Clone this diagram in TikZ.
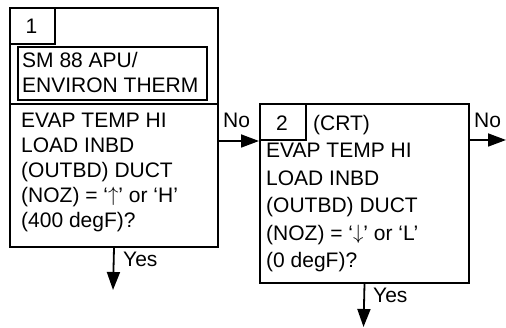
\documentclass[tikz,border=0pt]{standalone}
\usepackage{fontspec}
\setmainfont{Liberation Sans}
\usetikzlibrary{arrows.meta}

\begin{document}
\begin{tikzpicture}[x=1pt,y=-1pt,
  box/.style={draw,line width=2pt,anchor=north west,inner sep=0pt},
  txt/.style={anchor=base west,inner sep=0pt,font=\fontsize{21}{25}\selectfont},
  flow/.style={line width=1.8pt,-{Triangle[length=18pt,width=13pt]}}]
\useasboundingbox (0,0) rectangle (506,328);
% block 1
\node[box,minimum width=208pt,minimum height=96pt] (b1top) at (9,7) {};
\node[box,minimum width=45pt,minimum height=36pt] (n1) at (9,7) {};
\node[txt,anchor=base] (n1txt) at (31.5,34) {1};
\node[box,minimum width=189pt,minimum height=53pt] (sm) at (17,46) {};
\node[txt] (sm1) at (22,68) {SM 88 APU/};
\node[txt] (sm2) at (22,93) {ENVIRON THERM};
\node[box,minimum width=208pt,minimum height=143pt] (b1low) at (9,103) {};
\foreach \t [count=\i from 0] in {EVAP TEMP HI,LOAD INBD,(OUTBD) DUCT,
    {(NOZ) = ‘\raisebox{1pt}{$\uparrow$}’ or ‘H’},(400 degF)?}
  \node[txt] (q1-\i) at (21,128+25*\i) {\t};
% block 2
\node[box,minimum width=209pt,minimum height=179pt] (b2) at (259,103) {};
\node[box,minimum width=46pt,minimum height=36pt] (n2) at (259,103) {};
\node[txt,anchor=base] (n2txt) at (282,131) {2};
\node[txt] (crt) at (313,131) {(CRT)};
\foreach \t [count=\i from 0] in {EVAP TEMP HI,LOAD INBD,(OUTBD) DUCT,
    {(NOZ) = ‘\raisebox{1pt}{$\downarrow$}’ or ‘L’},(0 degF)?}
  \node[txt] (q2-\i) at (266,158+27.5*\i) {\t};
% connectors
\coordinate (e1) at (113,290);
\coordinate (e2) at (506,140);
\coordinate (e3) at (363.5,327);
\draw[flow] (b1low.east |- n2.south west) -- (n2.south west);
\node[txt] (no1) at (223,128) {No};
\draw[flow] (b2.east |- e2) -- (e2);
\node[txt] (no2) at (474,128) {No};
\draw[flow] (b1low.south) -- (e1);
\node[txt] (yes1) at (123,267) {Yes};
\draw[flow] (b2.south) -- (e3);
\node[txt] (yes2) at (373,303) {Yes};
\end{tikzpicture}
\end{document}
